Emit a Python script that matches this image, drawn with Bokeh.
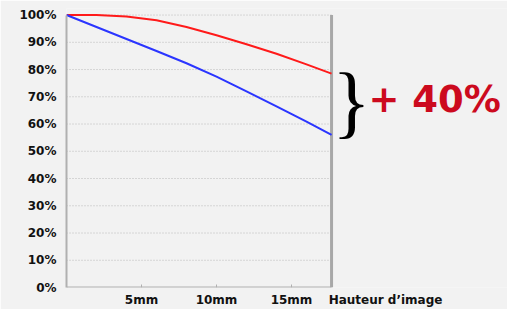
from bokeh.plotting import figure
from bokeh.models import Range1d, FixedTicker, Label
from bokeh.embed import file_html
from bokeh.resources import INLINE

# data
image_height_mm = [0, 2, 4, 6, 8, 10, 12, 14, 16, 17.67]
blue_values = [100, 95.6, 91.2, 86.8, 82.3, 77.4, 72.0, 66.5, 60.9, 56.0]
red_values = [100, 100, 99.5, 98.1, 95.6, 92.6, 89.3, 85.8, 81.9, 78.5]
x_domain_end = 17.67
y_ticks = [0, 10, 20, 30, 40, 50, 60, 70, 80, 90, 100]
y_tick_labels = ["0%", "10%", "20%", "30%", "40%", "50%", "60%", "70%", "80%", "90%", "100%"]
x_ticks = [5, 10, 15]
x_tick_labels = ["5mm", "10mm", "15mm"]
x_title_pos = 21.27
x_axis_title = "Hauteur d\u2019image"
gain_text = "+ 40%"

FONT = "DejaVu Sans"
GRAY = "#b0b0b0"

p = figure(width=507, height=309, output_backend="svg", toolbar_location=None,
           x_range=Range1d(0, 29.4), y_range=Range1d(0, 102.4),
           min_border_left=66, min_border_right=0, min_border_top=8, min_border_bottom=21,
           background_fill_color="#f2f2f2", border_fill_color="#f2f2f2")
p.outline_line_color = None
p.xgrid.grid_line_color = None
p.ygrid.grid_line_color = None

# dotted horizontal grid lines, limited to the chart domain
grid_y = y_ticks[1:]
p.segment(x0=[0] * len(grid_y), y0=grid_y, x1=[x_domain_end] * len(grid_y), y1=grid_y,
          line_color="#b8b8b8", line_width=1, line_dash="1 2")

# bottom axis line, small tick marks and right border
p.segment(x0=[0], y0=[0], x1=[x_domain_end], y1=[0], line_color=GRAY, line_width=2)
p.segment(x0=x_ticks, y0=[0] * len(x_ticks), x1=x_ticks, y1=[1.1] * len(x_ticks),
          line_color=GRAY, line_width=1)
p.segment(x0=[x_domain_end], y0=[0], x1=[x_domain_end], y1=[100], line_color="#a8a8a8", line_width=3)

p.line(image_height_mm, red_values, line_color="#ff1a1a", line_width=2)
p.line(image_height_mm, blue_values, line_color="#2b35ff", line_width=2)

for ax in (p.xaxis[0], p.yaxis[0]):
    ax.minor_tick_line_color = None
    ax.major_tick_line_color = None
    ax.major_tick_in = 0
    ax.major_tick_out = 0
    ax.major_label_text_font = FONT
    ax.major_label_text_font_style = "bold"
    ax.major_label_text_font_size = "12px"
    ax.major_label_text_color = "#111111"

p.xaxis.axis_line_color = None
p.xaxis.ticker = FixedTicker(ticks=x_ticks + [x_title_pos])
p.xaxis.major_label_overrides = dict(zip(x_ticks + [x_title_pos], x_tick_labels + [x_axis_title]))
p.xaxis.major_label_standoff = 5

p.yaxis.axis_line_color = GRAY
p.yaxis.axis_line_width = 2
p.yaxis.bounds = (0, 100)
p.yaxis.ticker = FixedTicker(ticks=y_ticks)
p.yaxis.major_label_overrides = dict(zip(y_ticks, y_tick_labels))
p.yaxis.major_label_standoff = 10

p.add_layout(Label(x=19.0, y=68.6, text="}", text_font="Liberation Serif",
                   text_font_size="80px", text_color="#000000",
                   text_align="center", text_baseline="middle"))
p.add_layout(Label(x=20.13, y=68.9, text=gain_text, text_font=FONT,
                   text_font_style="bold", text_font_size="37px",
                   text_color="#cc0a1e", text_baseline="middle"))

open("out.html", "w").write(file_html(p, INLINE))
